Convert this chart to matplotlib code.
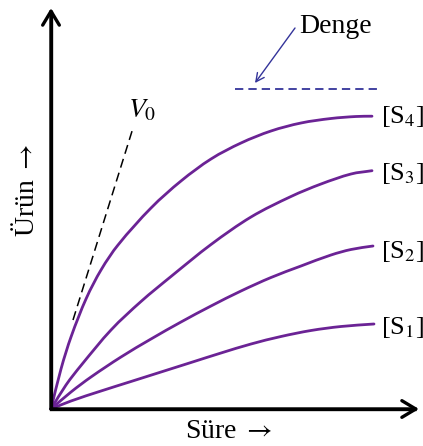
import matplotlib
matplotlib.use("Agg")
import matplotlib.pyplot as plt
from matplotlib.patches import ArrowStyle, PathPatch
from matplotlib.path import Path

plt.rcParams['font.family'] = ['Liberation Serif', 'DejaVu Serif']
plt.rcParams['mathtext.fontset'] = 'stix'

# ---- data (time vs product, arbitrary units) ----
t_S4 = [0, 10, 20, 35, 50, 67, 100, 130, 160, 190, 220, 250, 280, 305, 321]
p_S4 = [0, 40, 72, 110, 139, 164, 201, 228, 250, 266, 278, 286, 290.5, 292.5, 292.8]

t_S3 = [0, 15, 30, 60, 90, 120, 160, 200, 240, 270, 300, 321]
p_S3 = [0, 24, 43.5, 79, 107.5, 132.5, 164.5, 192, 212.5, 225, 235, 238.3]

t_S2 = [0, 20, 40, 70, 100, 130, 160, 190, 220, 250, 280, 300, 322]
p_S2 = [0, 17, 32, 52, 70, 87, 103, 118, 131.5, 143, 154, 159.5, 163]

t_S1 = [0, 20, 50, 80, 110, 140, 170, 200, 230, 260, 290, 323]
p_S1 = [0, 8, 18, 27.5, 37, 46.5, 56, 65, 72.5, 78.5, 82.5, 85]

series_t = [t_S1, t_S2, t_S3, t_S4]
series_p = [p_S1, p_S2, p_S3, p_S4]
series_labels = [r'[S$_1$]', r'[S$_2$]', r'[S$_3$]', r'[S$_4$]']
label_y = [82, 158, 236, 292.5]

denge_level = 320
denge_t = [184, 326]
v0_t = [22, 82]
v0_p = [89, 281]

x_axis_end = 368
y_axis_end = 401

curve_color = '#6b2395'
navy = '#34349a'


def smooth_path(xs, ys):
    """Cubic Hermite (as Bezier segments) through the given points."""
    n = len(xs)
    m = []
    for i in range(n):
        if i == 0:
            m.append((ys[1] - ys[0]) / (xs[1] - xs[0]))
        elif i == n - 1:
            m.append((ys[-1] - ys[-2]) / (xs[-1] - xs[-2]))
        else:
            m.append((ys[i + 1] - ys[i - 1]) / (xs[i + 1] - xs[i - 1]))
    verts = [(xs[0], ys[0])]
    codes = [Path.MOVETO]
    for i in range(n - 1):
        h = xs[i + 1] - xs[i]
        verts += [(xs[i] + h / 3, ys[i] + m[i] * h / 3),
                  (xs[i + 1] - h / 3, ys[i + 1] - m[i + 1] * h / 3),
                  (xs[i + 1], ys[i + 1])]
        codes += [Path.CURVE4] * 3
    return Path(verts, codes)


fig = plt.figure(figsize=(4.23, 4.46), dpi=100)
ax = fig.add_axes([0, 0, 1, 1])
ax.set_xlim(-51, 372)
ax.set_ylim(-37, 409)
ax.axis('off')

# axes with arrows
ax.plot([0, 0, x_axis_end - 3], [y_axis_end - 3, 0, 0], color='black', lw=2.4,
        solid_joinstyle='miter', solid_capstyle='butt', zorder=3)
style = ArrowStyle('->', head_length=0.5, head_width=0.3)
for xy in [(x_axis_end, 0), (0, y_axis_end)]:
    ax.annotate('', xy=xy, xytext=(0, 0),
                arrowprops=dict(arrowstyle=style, lw=2.4, color='black',
                                shrinkA=0, shrinkB=0, mutation_scale=20),
                zorder=3)

# curves
for tt, pp in zip(series_t, series_p):
    ax.add_patch(PathPatch(smooth_path(tt, pp), facecolor='none',
                           edgecolor=curve_color, lw=2.0, capstyle='round',
                           joinstyle='round', zorder=2))

for lab, ly in zip(series_labels, label_y):
    ax.text(330, ly, lab, fontsize=19, ha='left', va='center')

# V0 tangent
ax.plot(v0_t, v0_p, color='black', lw=1.1, linestyle=(0, (6, 3.5)))
ax.text(77, 292, r'$V_{\mathrm{0}}$', fontsize=20, ha='left', va='baseline')

# equilibrium line
ax.plot(denge_t, [denge_level, denge_level], color=navy, lw=1.3,
        linestyle=(0, (4.6, 2.8)))
ax.annotate('', xy=(204, 326), xytext=(244, 381),
            arrowprops=dict(arrowstyle=ArrowStyle('->', head_length=0.5, head_width=0.25),
                            lw=1.0, color=navy, shrinkA=0, shrinkB=0,
                            mutation_scale=12))
ax.text(248, 376, 'Denge', fontsize=20, ha='left', va='baseline')

# axis titles
ax.text(178, -22, r'Süre $\rightarrow$', fontsize=20, ha='center', va='center')
ax.text(-24, 219, r'Ürün $\rightarrow$', fontsize=20, ha='center', va='center', rotation=90)

fig.savefig('out.png', dpi=100)
